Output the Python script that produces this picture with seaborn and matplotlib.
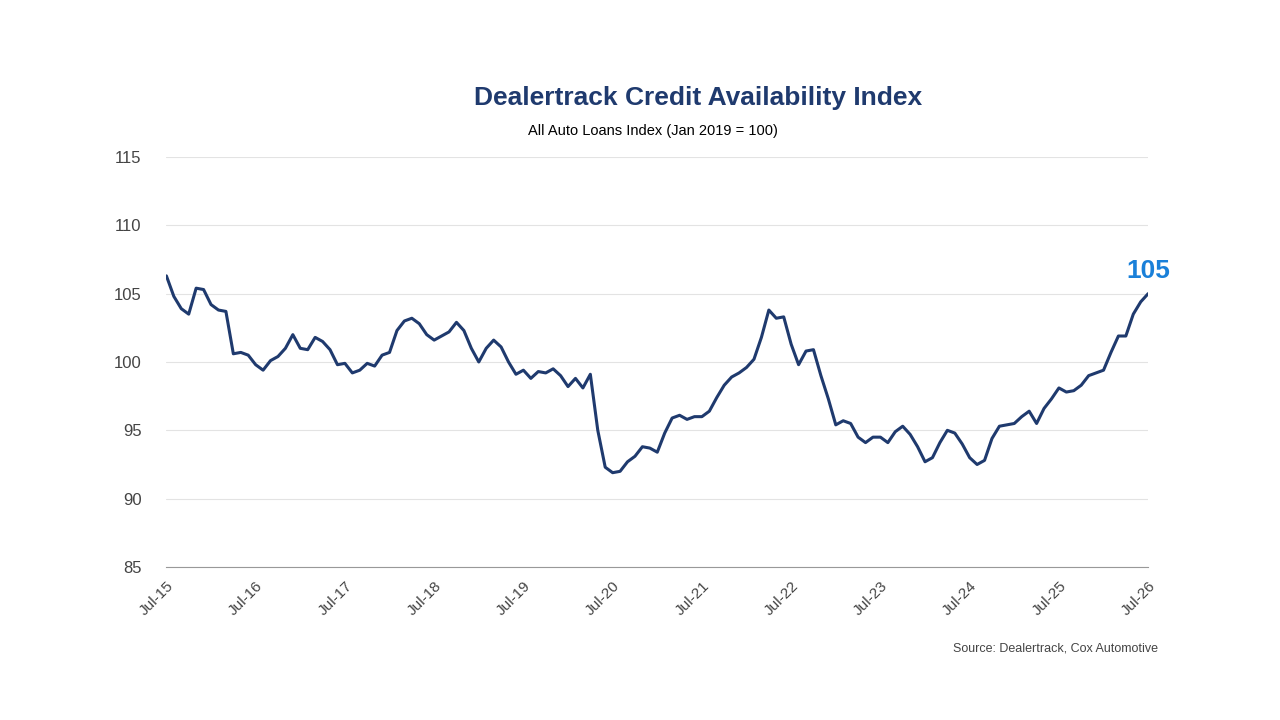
import numpy as np
import pandas as pd
from matplotlib import pyplot as plt
import seaborn as sns

# Monthly index values, Jul-2015 .. Jul-2026
index_values = [
    106.3, 104.8, 103.9, 103.5, 105.4, 105.3,
    104.2, 103.8, 103.7, 100.6, 100.7, 100.5, 99.8, 99.4, 100.1, 100.4, 101.0, 102.0,
    101.0, 100.9, 101.8, 101.5, 100.9, 99.8, 99.9, 99.2, 99.4, 99.9, 99.7, 100.5,
    100.7, 102.3, 103.0, 103.2, 102.8, 102.0, 101.6, 101.9, 102.2, 102.9, 102.3, 101.0,
    100.0, 101.0, 101.6, 101.1, 100.0, 99.1, 99.4, 98.8, 99.3, 99.2, 99.5, 99.0,
    98.2, 98.8, 98.1, 99.1, 95.0, 92.3, 91.9, 92.0, 92.7, 93.1, 93.8, 93.7,
    93.4, 94.8, 95.9, 96.1, 95.8, 96.0, 96.0, 96.4, 97.4, 98.3, 98.9, 99.2,
    99.6, 100.2, 101.8, 103.8, 103.2, 103.3, 101.3, 99.8, 100.8, 100.9, 99.0, 97.3,
    95.4, 95.7, 95.5, 94.5, 94.1, 94.5, 94.5, 94.1, 94.9, 95.3, 94.7, 93.8,
    92.7, 93.0, 94.1, 95.0, 94.8, 94.0, 93.0, 92.5, 92.8, 94.4, 95.3, 95.4,
    95.5, 96.0, 96.4, 95.5, 96.6, 97.3, 98.1, 97.8, 97.9, 98.3, 99.0, 99.2,
    99.4, 100.7, 101.9, 101.9, 103.5, 104.4, 105.0,
]
tick_labels = ["Jul-15", "Jul-16", "Jul-17", "Jul-18", "Jul-19", "Jul-20",
               "Jul-21", "Jul-22", "Jul-23", "Jul-24", "Jul-25", "Jul-26"]

df = pd.DataFrame({"month": np.arange(len(index_values)), "index": index_values})

sns.set_style("white")
plt.rcParams["font.family"] = ["Liberation Sans", "DejaVu Sans"]

fig = plt.figure(figsize=(12.8, 7.2), dpi=100)
ax = fig.add_axes([0.130, 0.2125, 0.767, 0.5695])

sns.lineplot(data=df, x="month", y="index", ax=ax, color="#1f3a6e", linewidth=2.2)

ax.set_xlim(0, len(index_values) - 1)
ax.set_ylim(85, 115)
ax.set_yticks(range(85, 116, 5))
ax.set_xticks(range(0, len(index_values), 12))
ax.set_xticklabels(tick_labels, rotation=45, ha="right", rotation_mode="anchor")
ax.tick_params(axis="x", length=5, color="#888888", labelsize=11, labelcolor="#444444")
ax.tick_params(axis="y", length=0, labelsize=12, labelcolor="#444444", pad=18)
ax.grid(axis="y", color="#e3e3e3", linewidth=0.8)
for side in ["top", "right", "left"]:
    ax.spines[side].set_visible(False)
ax.spines["bottom"].set_color("#999999")
ax.set_xlabel("")
ax.set_ylabel("")

last = len(index_values) - 1
ax.annotate(f"{index_values[-1]:.0f}", (last, index_values[-1]), xytext=(0, 8),
            textcoords="offset points", ha="center", va="bottom",
            fontsize=19, fontweight="bold", color="#1a80d9")

fig.text(0.545, 0.864, "Dealertrack Credit Availability Index", ha="center", va="center",
         fontsize=19, fontweight="bold", color="#1f3a6e")
fig.text(0.51, 0.818, "All Auto Loans Index (Jan 2019 = 100)", ha="center", va="center",
         fontsize=10.5, color="black")
fig.text(0.905, 0.099, "Source: Dealertrack, Cox Automotive", ha="right", va="center",
         fontsize=9, color="#444444")

fig.savefig("out.png", dpi=100)
